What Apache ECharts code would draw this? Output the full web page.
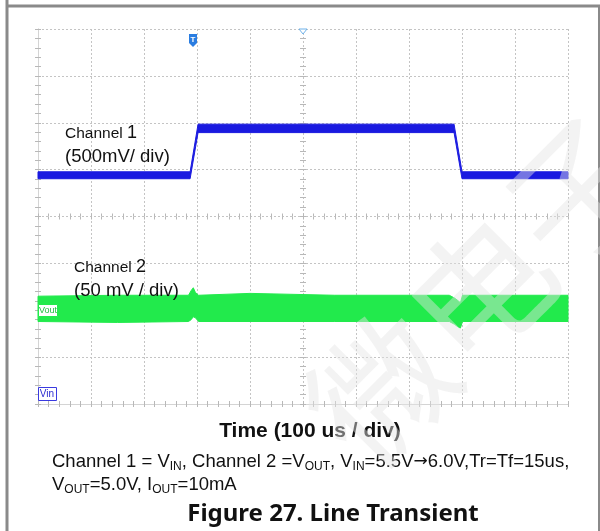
<!DOCTYPE html>
<html>
<head>
<meta charset="utf-8">
<script src="https://cdn.jsdelivr.net/npm/echarts@6/dist/echarts.min.js"></script>
<style>
  html, body { margin: 0; padding: 0; background: #fff; }
  #chart { width: 600px; height: 531px; }
</style>
</head>
<body>
<div id="chart"></div>
<script>
// scope screen: 10 x 8 divisions, time in us
const timeTicks = [0, 100, 200, 300, 400, 500, 600, 700, 800, 900, 1000];
const divTicks = [0, 1, 2, 3, 4, 5, 6, 7, 8];

// Channel 1 (VIN), band envelope in volts, 500 mV/div
const ch1Time = [0, 287, 302, 785, 800, 1000];
const ch1Low = [5.463, 5.463, 5.955, 5.955, 5.463, 5.463];
const ch1High = [5.537, 5.537, 6.045, 6.045, 5.537, 5.537];

// Channel 2 (VOUT), noise envelope in volts, 50 mV/div
const ch2Time = [0, 150, 284, 289, 293, 297, 303, 400, 560, 776, 786, 793, 797, 801, 1000];
const ch2Low = [4.986, 4.985, 4.986, 4.988, 4.991, 4.990, 4.986, 4.986, 4.986, 4.986, 4.983, 4.980, 4.979, 4.986, 4.986];
const ch2High = [5.013, 5.014, 5.014, 5.019, 5.022, 5.017, 5.014, 5.016, 5.014, 5.014, 5.011, 5.008, 5.006, 5.014, 5.014];

const BLUE = "#1a1ae0";
const GREEN = "#22ea4c";
const TICK = "#b8b8b8";

const chart = echarts.init(document.getElementById("chart"));

// filled envelope between low and high, drawn once through the axis scales
function bandSeries(yIndex, time, low, high, color) {
    return {
        type: "custom",
        xAxisIndex: 0,
        yAxisIndex: yIndex,
        data: time.map((t, i) => [t, low[i], high[i]]),
        encode: { x: 0, y: [1, 2] },
        renderItem: (params, api) => {
            if (params.dataIndex !== 0) return null;
            const top = time.map((t, i) => api.coord([t, high[i]]));
            const bottom = time.map((t, i) => api.coord([t, low[i]])).reverse();
            return {
                type: "polygon",
                shape: { points: top.concat(bottom) },
                style: { fill: color, stroke: color, lineWidth: 1 },
            };
        },
    };
}

function frameAxis(pos, offset, extra) {
    return Object.assign({
        type: "value",
        position: pos,
        offset: offset,
        min: 0,
        axisLabel: { show: false },
        axisLine: { show: false },
        axisTick: { show: true, inside: true, length: 3, lineStyle: { color: TICK } },
        minorTick: { show: true, splitNumber: 5, length: 3, lineStyle: { color: TICK } },
        splitLine: { show: false },
    }, extra);
}

const xFrame = { max: 1000, interval: 100 };
const yFrame = { max: 8, interval: 1 };
const dashed = { show: true, lineStyle: { color: "#c4c4c4", type: [2, 2], width: 1 } };
const solid = { show: true, lineStyle: { color: "#d4d4d4", width: 1 } };

chart.setOption({
    animation: false,
    grid: { left: 38, top: 29, width: 530, height: 375 },
    xAxis: [
        frameAxis("bottom", 0, Object.assign({ axisLine: solid, splitLine: dashed }, xFrame)),
        frameAxis("top", 0, Object.assign({ axisLine: solid }, xFrame)),
        frameAxis("bottom", -187.5, xFrame),
        frameAxis("top", -187.5, xFrame),
    ],
    yAxis: [
        frameAxis("left", 0, Object.assign({ axisLine: solid, splitLine: dashed }, yFrame)),
        frameAxis("right", 0, Object.assign({ axisLine: solid }, yFrame)),
        frameAxis("left", -265, yFrame),
        frameAxis("right", -265, yFrame),
        { type: "value", min: 3.06, max: 7.06, show: false },
        { type: "value", min: 4.898, max: 5.298, show: false },
    ],
    series: [
        bandSeries(4, ch1Time, ch1Low, ch1High, BLUE),
        bandSeries(5, ch2Time, ch2Low, ch2High, GREEN),
    ],
    graphic: [
        // page frame
        { type: "line", shape: { x1: 7, y1: 0, x2: 7, y2: 531 }, style: { stroke: "#8a8a8a", lineWidth: 3 } },
        { type: "line", shape: { x1: 6, y1: 6, x2: 600, y2: 6 }, style: { stroke: "#8a8a8a", lineWidth: 3 } },
        { type: "line", shape: { x1: 599, y1: 6, x2: 599, y2: 531 }, style: { stroke: "#8a8a8a", lineWidth: 2 } },
        // trigger marker
        {
            type: "polygon", z: 10,
            shape: { points: [[189, 34], [197, 34], [197, 43], [193, 47], [189, 43]] },
            style: { fill: "#2a7de1" },
        },
        {
            type: "text", z: 11, x: 193, y: 40,
            style: { text: "T", fill: "#fff", font: "bold 8px Liberation Sans", align: "center", verticalAlign: "middle" },
        },
        {
            type: "polygon", z: 10,
            shape: { points: [[299, 29], [307, 29], [303, 34]] },
            style: { fill: "#fff", stroke: "#6fb2ea", lineWidth: 1 },
        },
        // channel reference labels
        {
            type: "rect", z: 10, shape: { x: 38.5, y: 304.5, width: 19, height: 12 },
            style: { fill: "#fff", stroke: GREEN, lineWidth: 1 },
        },
        {
            type: "text", z: 11, x: 48, y: 311,
            style: { text: "Vout", fill: "#20c040", font: "9px Liberation Sans", align: "center", verticalAlign: "middle" },
        },
        {
            type: "rect", z: 10, shape: { x: 38.5, y: 387.5, width: 18, height: 13 },
            style: { fill: "#fff", stroke: "#3a3ae0", lineWidth: 1 },
        },
        {
            type: "text", z: 11, x: 47, y: 394,
            style: { text: "Vin", fill: "#2a2ad0", font: "10px Liberation Sans", align: "center", verticalAlign: "middle" },
        },
        // channel annotations
        {
            type: "text", z: 12, x: 65, y: 145,
            style: {
                text: "{a|Channel }{b|1}\n{c|(500mV/ div)}",
                verticalAlign: "middle",
                rich: {
                    a: { font: "15.5px Liberation Sans", fill: "#111", lineHeight: 23 },
                    b: { font: "18px Liberation Sans", fill: "#111", lineHeight: 23 },
                    c: { font: "18.5px Liberation Sans", fill: "#111", lineHeight: 23 },
                },
            },
        },
        {
            type: "text", z: 12, x: 74, y: 279,
            style: {
                text: "{a|Channel }{b|2}\n{c|(50 mV / div)}",
                verticalAlign: "middle",
                rich: {
                    a: { font: "15.5px Liberation Sans", fill: "#111", lineHeight: 23 },
                    b: { font: "18px Liberation Sans", fill: "#111", lineHeight: 23 },
                    c: { font: "18.5px Liberation Sans", fill: "#111", lineHeight: 23 },
                },
            },
        },
        // axis title and captions
        {
            type: "text", x: 310, y: 431,
            style: { text: "Time (100 us / div)", font: "bold 21px Liberation Sans", fill: "#111", align: "center", verticalAlign: "middle" },
        },
        {
            type: "text", x: 52, y: 462,
            style: {
                text: "{n|Channel 1 = V}{s|IN}{n|, Channel 2 =V}{s|OUT}{n|, V}{s|IN}{n|=5.5V}{a|→}{n|6.0V,Tr=Tf=15us,}",
                verticalAlign: "middle",
                rich: {
                    n: { font: "18.5px Liberation Sans", fill: "#111" },
                    a: { font: "17px DejaVu Sans", fill: "#111" },
                    s: { font: "12px Liberation Sans", fill: "#111", padding: [9, 0, 0, 0] },
                },
            },
        },
        {
            type: "text", x: 52, y: 485,
            style: {
                text: "{n|V}{s|OUT}{n|=5.0V, I}{s|OUT}{n|=10mA}",
                verticalAlign: "middle",
                rich: {
                    n: { font: "18.5px Liberation Sans", fill: "#111" },
                    s: { font: "12px Liberation Sans", fill: "#111", padding: [9, 0, 0, 0] },
                },
            },
        },
        {
            type: "text", x: 333, y: 514,
            style: { text: "Figure 27. Line Transient", font: "bold 24px Noto Sans", fill: "#111", align: "center", verticalAlign: "middle" },
        },
        // faint watermark
        {
            type: "text", z: 20, x: 480, y: 290, rotation: Math.PI / 4,
            style: { text: "微电子", font: "140px Noto Sans CJK SC", fill: "rgba(228,228,228,0.45)", align: "center", verticalAlign: "middle" },
        },
    ],
});
</script>
</body>
</html>
